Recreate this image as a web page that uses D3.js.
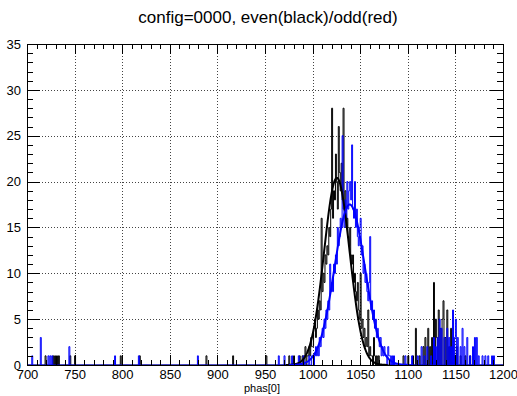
<!DOCTYPE html>
<html>
<head>
<meta charset="utf-8">
<script src="https://cdn.jsdelivr.net/npm/d3@7/dist/d3.min.js"></script>
<style>
  html, body { margin: 0; padding: 0; background: #fff; }
  svg { display: block; font-family: "Liberation Sans", Arial, Helvetica, sans-serif; }
</style>
</head>
<body>
<svg id="chart" width="517" height="396"></svg>
<script>
// Histogram range: 500 bins of width 1 between 700 and 1200
const xRange = [700, 1200];
const yRange = [0, 35];
const xMajorTicks = [700, 750, 800, 850, 900, 950, 1000, 1050, 1100, 1150, 1200];
const yMajorTicks = [0, 5, 10, 15, 20, 25, 30, 35];

// Even channels (black): main peak, contents of consecutive bins starting at 985
const evenPeakStart = 985;
const evenPeak = [0,1,0,0,1,0,1,2,0,1,1,2,1,3,2,2,4,5,3,4,6,5,7,6,16,8,10,9,12,11,
  13,12,15,14,17,28,16,19,18,23,20,17,26,21,19,22,18,28,17,19,15,16,14,13,15,12,11,12,9,10,
  8,7,9,6,5,10,4,5,3,4,2,3,2,6,1,2,1,1,0,3,1,0,1,0,1,0];
// Even channels: isolated bins outside the main peak [bin low edge, content]
const evenOther = [[719,1],[727,1],[729,1],[731,1],[733,1],[745,1],[750,1],[798,1],[818,1],
  [888,1],[916,1],[951,1],[975,1],[980,1],
  [1095,1],[1100,1],[1105,1],[1108,4],[1112,1],[1116,2],[1118,3],[1121,4],[1123,2],[1125,3],
  [1127,9],[1129,5],[1130,3],[1132,6],[1134,4],[1136,5],[1137,7],[1139,3],[1141,6],[1143,2],
  [1145,4],[1147,2],[1149,1],[1151,2],[1155,1],[1160,1],[1165,1]];

// Odd channels (blue): main peak starting at 995
const oddPeakStart = 995;
const oddPeak = [0,1,0,0,1,1,0,1,2,1,2,1,3,2,3,4,3,5,4,6,5,7,6,11,8,9,8,11,10,12,
  11,15,13,14,16,15,25,17,15,18,16,20,17,19,20,18,24,17,16,20,15,17,14,13,15,16,12,13,10,11,
  9,10,8,7,9,14,6,7,5,6,4,5,3,4,3,2,3,1,2,1,2,1,1,0,2,1,1,0,1,0,1];
const oddOther = [[705,1],[714,3],[722,1],[724,1],[726,1],[744,2],[792,1],[817,1],[879,1],
  [964,1],[970,1],[978,1],[985,1],[990,1],
  [1097,1],[1104,1],[1110,1],[1114,2],[1117,1],[1120,2],[1124,1],[1127,3],[1129,2],[1131,3],
  [1133,5],[1135,4],[1138,3],[1141,4],[1143,3],[1145,2],[1147,6],[1149,3],[1150,5],[1152,3],
  [1155,2],[1157,4],[1159,2],[1162,3],[1165,1],[1168,2],[1170,3],[1172,3],[1174,1],[1178,1],
  [1181,1],[1184,1],[1188,1],[1190,1]];

// Gaussian fit parameters [constant, mean, sigma]
const evenFit = [20.4, 1025.5, 13.4];
const oddFit = [17.5, 1039, 16];

const titleText = "config=0000, even(black)/odd(red)";
const xTitle = "phas[0]";

const svg = d3.select("#chart");
const frame = { left: 27, right: 503, top: 44, bottom: 365 };

const x = d3.scaleLinear().domain(xRange).range([frame.left, frame.right]);
const y = d3.scaleLinear().domain(yRange).range([frame.bottom, frame.top]);

function fillBins(start, peak, other) {
  const n = xRange[1] - xRange[0];
  const bins = new Array(n).fill(0);
  peak.forEach((v, i) => { bins[start + i - xRange[0]] = v; });
  other.forEach(([b, v]) => { bins[b - xRange[0]] = v; });
  return bins;
}

const evenBins = fillBins(evenPeakStart, evenPeak, evenOther);
const oddBins = fillBins(oddPeakStart, oddPeak, oddOther);

// Grid (dotted) at major ticks
const grid = svg.append("g").attr("stroke", "#444").attr("stroke-width", 1)
  .attr("stroke-dasharray", "1,2").attr("shape-rendering", "crispEdges");
xMajorTicks.slice(1, -1).forEach(t => {
  grid.append("line").attr("x1", Math.round(x(t)) + 0.5).attr("x2", Math.round(x(t)) + 0.5)
    .attr("y1", frame.top).attr("y2", frame.bottom);
});
yMajorTicks.slice(1, -1).forEach(t => {
  grid.append("line").attr("y1", Math.round(y(t)) + 0.5).attr("y2", Math.round(y(t)) + 0.5)
    .attr("x1", frame.left).attr("x2", frame.right);
});

// Histogram outlines
function histPath(bins) {
  const pts = bins.map((v, i) => [xRange[0] + i, v]);
  pts.push([xRange[1], bins[bins.length - 1]]);
  const line = d3.line().x(d => x(d[0])).y(d => y(d[1])).curve(d3.curveStepAfter);
  return line(pts);
}

svg.append("path").attr("d", histPath(evenBins))
  .attr("fill", "none").attr("stroke", "#000").attr("stroke-width", 1);
svg.append("path").attr("d", histPath(oddBins))
  .attr("fill", "none").attr("stroke", "#0000ff").attr("stroke-width", 1);

// Gaussian fit curves
function fitPath(p) {
  const [c, m, s] = p;
  const pts = d3.range(m - 4 * s, m + 4 * s + 0.01, 0.5)
    .map(v => [v, c * Math.exp(-0.5 * ((v - m) / s) ** 2)]);
  return d3.line().x(d => x(d[0])).y(d => y(d[1]))(pts);
}
svg.append("path").attr("d", fitPath(evenFit))
  .attr("fill", "none").attr("stroke", "#000").attr("stroke-width", 2);
svg.append("path").attr("d", fitPath(oddFit))
  .attr("fill", "none").attr("stroke", "#0000ff").attr("stroke-width", 2);

// Axes: ticks pointing inward on all four sides
const xMinor = d3.range(xRange[0], xRange[1] + 1, 10);
const yMinor = d3.range(yRange[0], yRange[1] + 0.01, 1);

function styleAxis(g) {
  g.select(".domain").remove();
  g.selectAll("line").attr("stroke", "#000").attr("shape-rendering", "crispEdges");
  g.selectAll("text").attr("font-size", 13).attr("fill", "#000")
    .attr("font-family", "'Liberation Sans', Arial, sans-serif");
}

svg.append("g").attr("transform", `translate(0,${frame.bottom})`)
  .call(d3.axisBottom(x).tickValues(xMinor).tickSize(-5).tickFormat(""))
  .call(styleAxis);
svg.append("g").attr("transform", `translate(0,${frame.bottom})`)
  .call(d3.axisBottom(x).tickValues(xMajorTicks).tickSize(-10).tickPadding(5).tickFormat(d3.format("d")))
  .call(styleAxis);
svg.append("g").attr("transform", `translate(0,${frame.top})`)
  .call(d3.axisTop(x).tickValues(xMinor).tickSize(-5).tickFormat(""))
  .call(styleAxis);
svg.append("g").attr("transform", `translate(0,${frame.top})`)
  .call(d3.axisTop(x).tickValues(xMajorTicks).tickSize(-10).tickFormat(""))
  .call(styleAxis);

svg.append("g").attr("transform", `translate(${frame.left},0)`)
  .call(d3.axisLeft(y).tickValues(yMinor).tickSize(-6).tickFormat(""))
  .call(styleAxis);
svg.append("g").attr("transform", `translate(${frame.left},0)`)
  .call(d3.axisLeft(y).tickValues(yMajorTicks).tickSize(-13).tickPadding(6).tickFormat(d3.format("d")))
  .call(styleAxis);
svg.append("g").attr("transform", `translate(${frame.right},0)`)
  .call(d3.axisRight(y).tickValues(yMinor).tickSize(-6).tickFormat(""))
  .call(styleAxis);
svg.append("g").attr("transform", `translate(${frame.right},0)`)
  .call(d3.axisRight(y).tickValues(yMajorTicks).tickSize(-13).tickFormat(""))
  .call(styleAxis);

// Frame
svg.append("rect")
  .attr("x", frame.left + 0.5).attr("y", frame.top + 0.5)
  .attr("width", frame.right - frame.left).attr("height", frame.bottom - frame.top)
  .attr("fill", "none").attr("stroke", "#000").attr("stroke-width", 1);

// Titles
svg.append("text").attr("x", 268).attr("y", 23).attr("text-anchor", "middle")
  .attr("font-size", 17).attr("fill", "#000").text(titleText);
svg.append("text").attr("x", 262).attr("y", 392)
  .attr("text-anchor", "middle").attr("font-size", 11).attr("fill", "#000").text(xTitle);
</script>
</body>
</html>
